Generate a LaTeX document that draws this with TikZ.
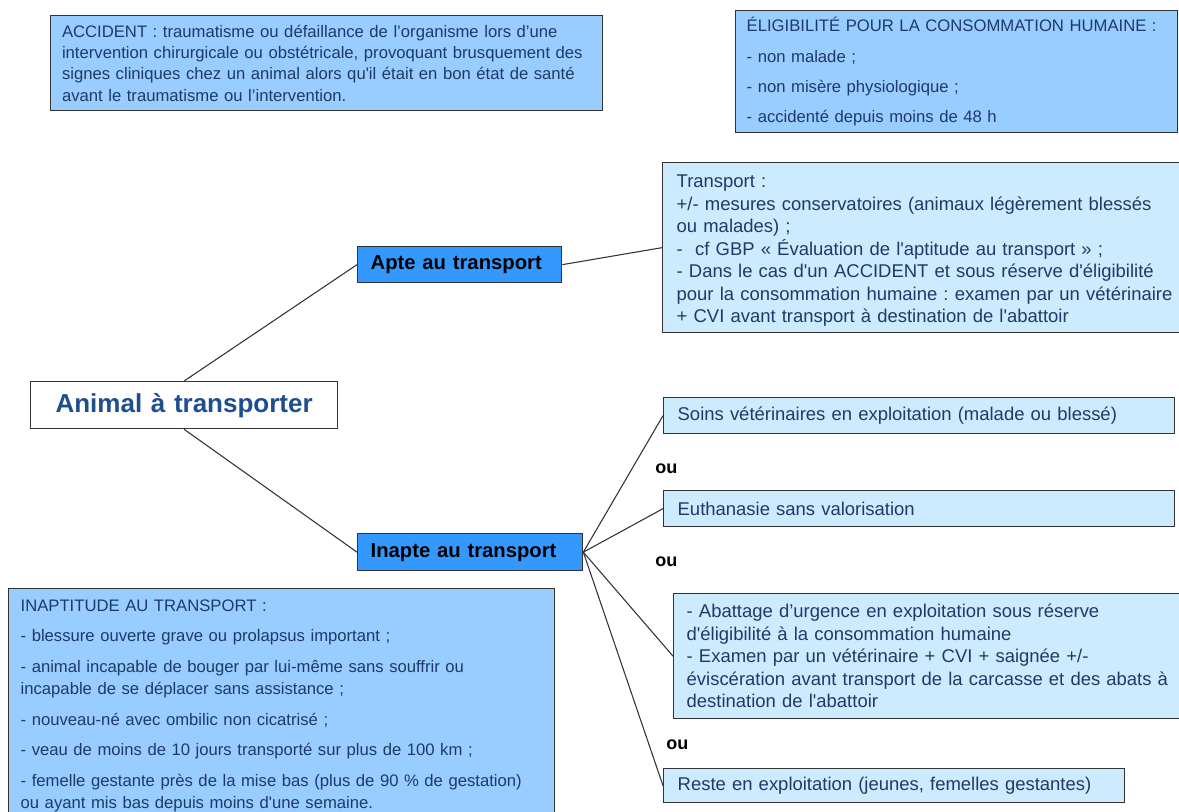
\documentclass[tikz,border=0pt]{standalone}
\usepackage{fontspec}
\setmainfont{Liberation Sans}[Ligatures=TeXOff]
\frenchspacing
\definecolor{noteblue}{HTML}{99CCFF}
\definecolor{paleblue}{HTML}{CCEBFF}
\definecolor{deepblue}{HTML}{3399FF}
\definecolor{inkblue}{HTML}{1F3A68}
\definecolor{titleblue}{HTML}{1F4E8F}
\definecolor{edgegray}{HTML}{333333}
\begin{document}
\begin{tikzpicture}[x=0.75pt,y=-0.75pt,
  boxbase/.style={draw=edgegray, line width=1pt, rectangle, anchor=north west,
    align=left, inner ysep=0pt, text=inkblue},
  notebox/.style={boxbase, fill=noteblue, font=\fontsize{12.5pt}{16.9pt}\selectfont},
  choicebox/.style={boxbase, fill=paleblue, font=\fontsize{13.85pt}{16.9pt}\selectfont},
  fitbox/.style={boxbase, fill=deepblue, text=black,
    font=\fontsize{15.2pt}{18pt}\selectfont\bfseries},
  oulabel/.style={anchor=west, inner sep=0pt, font=\fontsize{13.5pt}{16pt}\selectfont\bfseries},
  link/.style={draw=edgegray, line width=0.8pt}]
\path[use as bounding box, fill=white] (0,0) rectangle (1179,812);
% encadres de definitions
\node[notebox, text width=397pt, inner xsep=8.5pt, minimum height=71.25pt,
  font=\fontsize{12.5pt}{16.1pt}\selectfont] (accident) at (50,15)
  {ACCIDENT : traumatisme ou défaillance de l’organisme lors d’une\\
   intervention chirurgicale ou obstétricale, provoquant brusquement des\\
   signes cliniques chez un animal alors qu'il était en bon état de santé\\
   avant le traumatisme ou l’intervention.};
\node[notebox, text width=315pt, inner xsep=8.25pt, minimum height=91.5pt,
  font=\fontsize{12.5pt}{22.7pt}\selectfont] (eligible) at (735,10)
  {ÉLIGIBILITÉ POUR LA CONSOMMATION HUMAINE :\\
   - non malade ;\\
   - non misère physiologique ;\\
   - accidenté depuis moins de 48 h};
\node[notebox, text width=391.5pt, inner xsep=9pt, minimum height=176pt] (inaptitude) at (8,588)
  {INAPTITUDE AU TRANSPORT :\\[6pt]
   - blessure ouverte grave ou prolapsus important ;\\[6pt]
   - animal incapable de bouger par lui-même sans souffrir ou\\
   incapable de se déplacer sans assistance ;\\[6pt]
   - nouveau-né avec ombilic non cicatrisé ;\\[6pt]
   - veau de moins de 10 jours transporté sur plus de 100 km ;\\[6pt]
   - femelle gestante près de la mise bas (plus de 90 \% de gestation)\\
   ou ayant mis bas depuis moins d'une semaine.};
% arbre
\node[boxbase, fill=white, text=titleblue, align=center, text width=210pt, inner xsep=10.1pt,
  minimum height=35.25pt, font=\fontsize{19.5pt}{22pt}\selectfont\bfseries] (animal) at (30,381)
  {Animal à transporter};
\node[fitbox, text width=133.5pt, inner xsep=9.75pt, minimum height=27pt] (apte) at (357,246)
  {Apte au transport};
\node[fitbox, text width=149.25pt, inner xsep=9.75pt, minimum height=27.75pt] (inapte) at (357,533)
  {Inapte au transport};
\node[choicebox, text width=384pt, inner xsep=10.5pt, minimum height=127.5pt] (transport) at (662,162)
  {\rule{0pt}{14pt}Transport :\\
   +/- mesures conservatoires (animaux légèrement blessés\\
   ou malades) ;\\
   - \ cf GBP « Évaluation de l'aptitude au transport » ;\\
   - Dans le cas d'un ACCIDENT et sous réserve d'éligibilité\\
   pour la consommation humaine : examen par un vétérinaire\\
   + CVI avant transport à destination de l'abattoir};
\node[choicebox, text width=362.25pt, inner xsep=10.5pt, minimum height=27pt] (soins) at (663,397)
  {Soins vétérinaires en exploitation (malade ou blessé)};
\node[choicebox, text width=362.25pt, inner xsep=10.5pt, minimum height=27pt] (euthanasie) at (663,490)
  {Euthanasie sans valorisation};
\node[choicebox, text width=370.5pt, inner xsep=9.75pt, minimum height=93.75pt] (abattage) at (673,593)
  {- Abattage d’urgence en exploitation sous réserve\\
   d'éligibilité à la consommation humaine\\
   - Examen par un vétérinaire + CVI + saignée +/-\\
   éviscération avant transport de la carcasse et des abats à\\
   destination de l'abattoir};
\node[choicebox, text width=324.75pt, inner xsep=10.5pt, minimum height=25.5pt] (reste) at (663,768)
  {Reste en exploitation (jeunes, femelles gestantes)};
\node[oulabel] (ou1) at (655,469) {ou};
\node[oulabel] (ou2) at (655,562) {ou};
\node[oulabel] (ou3) at (666,745) {ou};
% liaisons
\draw[link] (animal.north) -- (apte.west);
\draw[link] (animal.south) -- (inapte.west);
\draw[link] (apte.east) -- (transport.west);
\draw[link] (inapte.east) -- (soins.west);
\draw[link] (inapte.east) -- (euthanasie.west);
\draw[link] (inapte.east) -- (abattage.west);
\draw[link] (inapte.east) -- (reste.west);
\end{tikzpicture}
\end{document}
